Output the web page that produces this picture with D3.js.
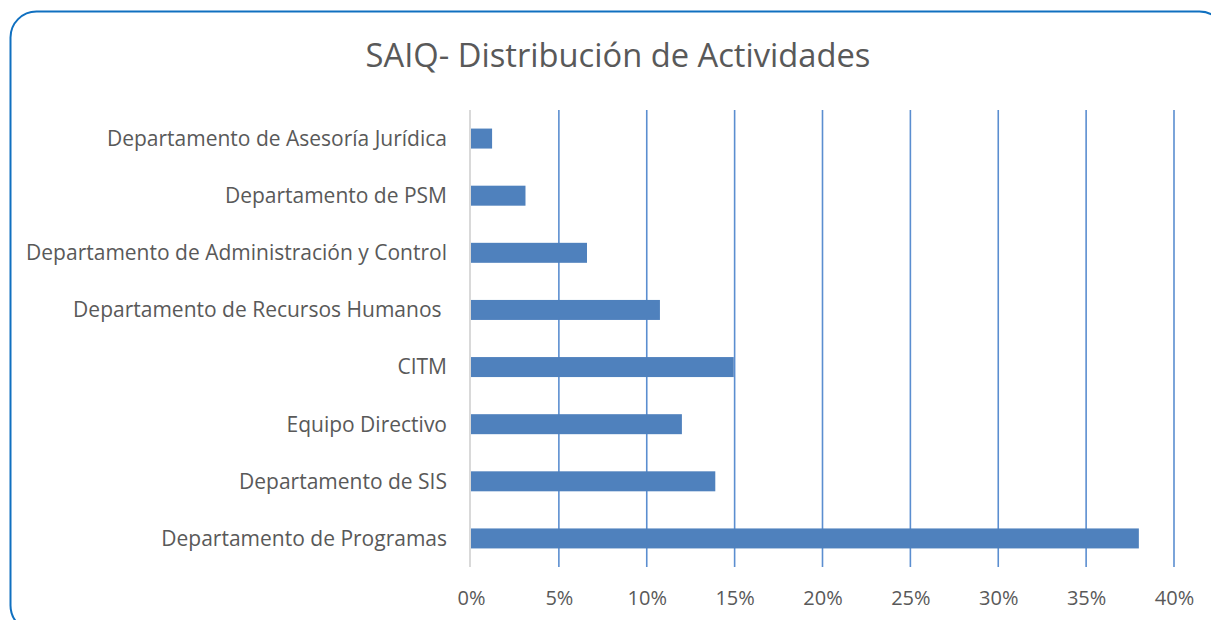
<!DOCTYPE html>
<html><head><meta charset="utf-8">
<script src="https://cdn.jsdelivr.net/npm/d3@7"></script>
<style>body{margin:0;background:#fff}svg{display:block}text{white-space:pre}</style>
</head><body><svg id="c" width="1211" height="620"></svg>
<script>
const categories = ["Departamento de Asesoría Jurídica","Departamento de PSM","Departamento de Administración y Control","Departamento de Recursos Humanos ","CITM","Equipo Directivo","Departamento de SIS","Departamento de Programas"];
const values = [0.012, 0.031, 0.066, 0.1075, 0.1495, 0.12, 0.139, 0.38];
const ticks = [0,0.05,0.10,0.15,0.20,0.25,0.30,0.35,0.40];
const title = "SAIQ- Distribución de Actividades";

const svg = d3.select("#c");
const font = "'Open Sans', sans-serif";
svg.append("rect").attr("x",10.5).attr("y",11.5).attr("width",1215).attr("height",620)
  .attr("rx",26).attr("fill","#fff").attr("stroke","#1070c0").attr("stroke-width",2);

svg.append("text").attr("x",618).attr("y",67).attr("text-anchor","middle")
  .attr("font-family",font).attr("font-size",32.7).attr("fill","#595959").text(title);

const x = d3.scaleLinear().domain([0,0.40]).range([471,1174]);
const y = d3.scaleBand().domain(categories).range([110,567]).paddingInner(0.65).paddingOuter(0.325);

const g = svg.append("g");
g.selectAll("line.grid").data(ticks.slice(1)).join("line").attr("class","grid")
  .attr("x1",d=>x(d)).attr("x2",d=>x(d)).attr("y1",110).attr("y2",567)
  .attr("stroke","#5b8ed0").attr("stroke-width",1.6);

g.selectAll("rect.bar").data(values).join("rect").attr("class","bar")
  .attr("x",x(0)).attr("y",(d,i)=>y(categories[i])).attr("height",y.bandwidth())
  .attr("width",d=>x(d)-x(0)).attr("fill","#4f81bd");

g.append("line").attr("x1",470).attr("x2",470).attr("y1",110).attr("y2",567)
  .attr("stroke","#d9d9d9").attr("stroke-width",2);

const xa = d3.axisBottom(x).tickValues(ticks).tickFormat(d=>Math.round(d*100)+"%").tickSize(0).tickPadding(0);
const xg = svg.append("g").attr("transform","translate(0,567)").call(xa);
xg.select(".domain").remove();
xg.selectAll("text").attr("font-family",font).attr("font-size",20).attr("fill","#595959").attr("dy",null).attr("y",38);

const ya = d3.axisLeft(y).tickSize(0).tickPadding(0);
const yg = svg.append("g").attr("transform","translate(447,0)").call(ya);
yg.select(".domain").remove();
yg.selectAll("text").attr("font-family",font).attr("font-size",21).attr("fill","#595959").attr("dy","0.35em").attr("x",0);
</script></body></html>
